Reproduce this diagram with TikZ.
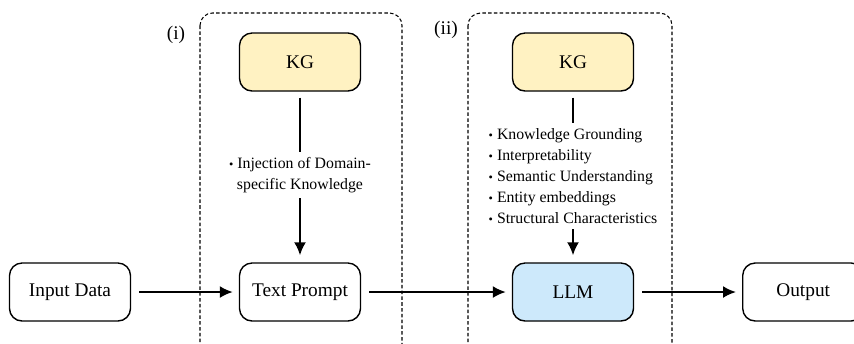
\documentclass[tikz,border=0pt]{standalone}
\usepackage{fontspec}
\setmainfont{Liberation Serif}
\usetikzlibrary{positioning}
\usetikzlibrary{arrows.meta}

\definecolor{kgyellow}{HTML}{FFF2C2}
\definecolor{llmblue}{HTML}{CDE9FB}

\begin{document}
\begin{tikzpicture}[x=0.02cm,y=-0.02cm,-latex]
            \useasboundingbox (0,0) rectangle (854,343);
            \tikzset{
                block/.style={draw, line width=0.8pt, rounded corners=0.25cm, minimum width=2.42cm, minimum height=1.16cm, font=\rmfamily\fontsize{11}{13}\selectfont},
                flow/.style={line width=1.2pt, -{Latex[length=2.6mm,width=2.4mm]}},
                link/.style={line width=1.2pt, -},
                stage/.style={draw, dash pattern=on 2pt off 1.3pt, line width=0.6pt, rounded corners=0.25cm, -},
                notes/.style={font=\rmfamily\fontsize{9}{12}\selectfont, inner sep=3pt}
            }
            % Etapas
            \draw[stage] (200,13) rectangle (402,360);
            \draw[stage] (468,13) rectangle (672,360);
            \node[font=\rmfamily\fontsize{11}{13}\selectfont] (lab1) at (176,35) {(i)};
            \node[font=\rmfamily\fontsize{11}{13}\selectfont] (lab2) at (446,30) {(ii)};

            % Linha principal
            \node [block] (input) at (70,292) {Input Data};
            \node [block] (prompt) at (300,292) {Text Prompt};
            \node [block, fill=llmblue] (llm) at (573,292) {LLM};
            \node [block, anchor=west] (output) at (742,292) {Output};

            % Grafos de conhecimento
            \node [block, fill=kgyellow] (kg1) at (300,62) {KG};
            \node [block, fill=kgyellow] (kg2) at (573,62) {KG};

            \node [notes, align=center, inner sep=0.1cm] (inj) at (300,175) {{\scriptsize\textbullet} Injection of Domain-\\specific Knowledge};
            \node [notes, align=left, inner sep=0.1cm] (props) at (573,176) {{\scriptsize\textbullet} Knowledge Grounding\\{\scriptsize\textbullet} Interpretability\\{\scriptsize\textbullet} Semantic Understanding\\{\scriptsize\textbullet} Entity embeddings\\{\scriptsize\textbullet} Structural Characteristics};

            % Conexões
            \draw[link, shorten <=0.12cm] (kg1) -- (inj);
            \draw[flow, shorten >=0.14cm] (inj) -- (prompt);
            \draw[link, shorten <=0.12cm] (kg2) -- (props);
            \draw[flow, shorten >=0.14cm] (props) -- (llm);
            \draw[flow, shorten <=0.16cm, shorten >=0.12cm] (input) -- (prompt);
            \draw[flow, shorten <=0.16cm, shorten >=0.12cm] (prompt) -- (llm);
            \draw[flow, shorten <=0.16cm, shorten >=0.12cm] (llm) -- (output);
        \end{tikzpicture}
\end{document}
